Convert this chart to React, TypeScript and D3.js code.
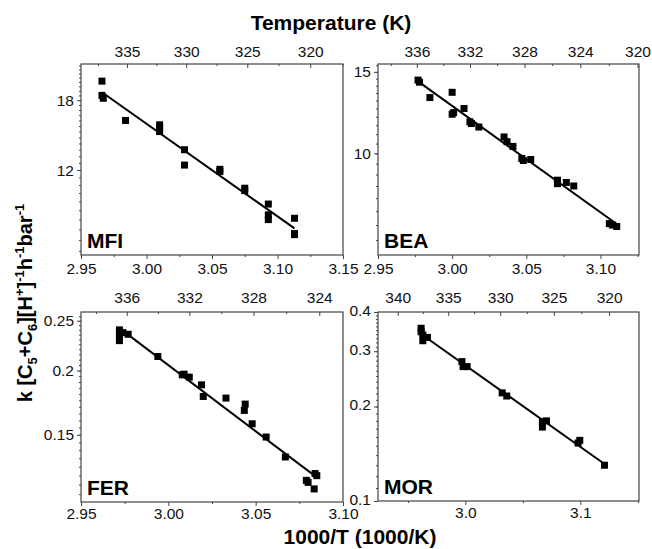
import * as d3 from "d3";
import React, { useRef, useEffect } from "react";

// 1000/T (1000/K) and k values, one pair of arrays per zeolite
const mfiX = [2.966, 2.966, 2.967, 2.984, 3.010, 3.010, 3.010, 3.029, 3.029, 3.056, 3.056, 3.075, 3.075, 3.093, 3.093, 3.093, 3.113, 3.113, 3.113];
const mfiY = [20.1, 18.5, 18.2, 16.0, 15.6, 15.3, 15.0, 13.5, 12.35, 12.05, 11.9, 10.8, 10.65, 9.85, 9.25, 9.0, 9.07, 8.3, 8.25];

const beaX = [2.977, 2.978, 2.985, 3.000, 3.000, 3.001, 3.008, 3.012, 3.013, 3.018, 3.035, 3.037, 3.041, 3.047, 3.048, 3.053, 3.071, 3.071, 3.077, 3.082, 3.106, 3.108, 3.111];
const beaY = [14.4, 14.25, 13.2, 13.55, 12.15, 12.25, 12.5, 11.7, 11.6, 11.4, 10.85, 10.6, 10.35, 9.75, 9.65, 9.7, 8.75, 8.6, 8.65, 8.5, 7.05, 7.0, 6.95];

const ferX = [2.972, 2.972, 2.972, 2.974, 2.977, 2.994, 3.008, 3.009, 3.012, 3.019, 3.020, 3.033, 3.0435, 3.044, 3.048, 3.056, 3.067, 3.079, 3.080, 3.0835, 3.084, 3.085];
const ferY = [0.240, 0.2346, 0.2287, 0.237, 0.2353, 0.213, 0.1962, 0.1968, 0.1942, 0.1876, 0.1781, 0.1768, 0.1673, 0.1721, 0.1576, 0.1485, 0.1358, 0.1223, 0.1212, 0.1177, 0.1261, 0.1249];

const morX = [2.9615, 2.9615, 2.963, 2.963, 2.967, 2.997, 2.998, 3.0015, 3.032, 3.036, 3.067, 3.067, 3.0705, 3.098, 3.0995, 3.121];
const morY = [0.355, 0.346, 0.338, 0.324, 0.332, 0.278, 0.268, 0.268, 0.221, 0.216, 0.179, 0.172, 0.180, 0.153, 0.156, 0.130];

// top axis temperatures (K)
const mfiTemp = [335, 330, 325, 320];
const mfiTempMinor = [337.5, 332.5, 327.5, 322.5, 317.5];
const beaTemp = [336, 332, 328, 324, 320];
const beaTempMinor = [338, 334, 330, 326, 322];
const ferTemp = [336, 332, 328, 324];
const ferTempMinor = [338, 334, 330, 326];
const morTemp = [340, 335, 330, 325, 320];
const morTempMinor = [337.5, 332.5, 327.5, 322.5];

// bottom axis 1000/T ticks
const mfiInvT = [2.95, 3.0, 3.05, 3.1, 3.15];
const beaInvT = [2.95, 3.0, 3.05, 3.1];
const ferInvT = [2.95, 3.0, 3.05, 3.1];
const morInvT = [3.0, 3.1];

// left axis ticks
const mfiRate = [12, 18];
const beaRate = [10, 15];
const ferRate = [0.15, 0.2, 0.25];
const morRate = [0.1, 0.2, 0.3, 0.4];

const FONT = "'Liberation Sans', Arial, Helvetica, sans-serif";
const AXIS = "#444";

const panels = [
  {
    name: "MFI", xs: mfiX, ys: mfiY, left: 81, top: 64, right: 343, bottom: 255,
    xDom: [2.95, 3.15], yDom: [7.33, 22.2],
    xTicks: mfiInvT, xMinor: d3.range(2.975, 3.15, 0.05), xFmt: ".2f",
    temps: mfiTemp, tempsMinor: mfiTempMinor,
    yTicks: mfiRate, yMinor: d3.range(7.5, 22.1, 0.5),
    topPad: 7, bottomPad: 4, leftDy: "0.32em",
  },
  {
    name: "BEA", xs: beaX, ys: beaY, left: 378, top: 64, right: 639, bottom: 255,
    xDom: [2.95, 3.126], yDom: [6.03, 15.6],
    xTicks: beaInvT, xMinor: d3.range(2.975, 3.126, 0.05), xFmt: ".2f",
    temps: beaTemp, tempsMinor: beaTempMinor,
    yTicks: beaRate, yMinor: d3.range(6.5, 15.6, 0.5),
    topPad: 7, bottomPad: 4, leftDy: "0.32em",
  },
  {
    name: "FER", xs: ferX, ys: ferY, left: 81, top: 312, right: 343, bottom: 502,
    xDom: [2.95, 3.10], yDom: [0.111, 0.26],
    xTicks: ferInvT, xMinor: d3.range(2.975, 3.1, 0.05), xFmt: ".2f",
    temps: ferTemp, tempsMinor: ferTempMinor,
    yTicks: ferRate, yMinor: d3.range(0.115, 0.2601, 0.005),
    topPad: 9, bottomPad: 2, leftDy: "0.32em",
  },
  {
    name: "MOR", xs: morX, ys: morY, left: 378, top: 312, right: 639, bottom: 501,
    xDom: [2.924, 3.151], yDom: [0.1, 0.4],
    xTicks: morInvT, xMinor: d3.range(2.95, 3.16, 0.1), xFmt: ".1f",
    temps: morTemp, tempsMinor: morTempMinor,
    yTicks: morRate, yMinor: d3.range(0.11, 0.4, 0.01),
    topPad: 9, bottomPad: 2, leftDy: "0.22em",
  },
];

const styleAxis = (a: any) => {
  a.select(".domain").remove();
  a.selectAll("line").attr("stroke", AXIS).attr("stroke-width", 1);
  a.selectAll("text").attr("font-size", 15.5).attr("font-family", FONT).attr("fill", "#111");
};

function drawPanel(svg: any, p: any) {
  const x = d3.scaleLinear().domain(p.xDom).range([p.left, p.right]);
  const y = d3.scaleLog().domain(p.yDom).range([p.bottom, p.top]);
  const g = svg.append("g");

  // bottom axis
  g.append("g").attr("transform", `translate(0,${p.bottom})`)
    .call(d3.axisBottom(x).tickValues(p.xTicks).tickFormat(d3.format(p.xFmt)).tickSize(4).tickPadding(p.bottomPad))
    .call(styleAxis);
  g.append("g").attr("transform", `translate(0,${p.bottom})`)
    .call(d3.axisBottom(x).tickValues(p.xMinor).tickFormat(() => "").tickSize(2))
    .call(styleAxis);

  // top axis, temperature
  g.append("g").attr("transform", `translate(0,${p.top})`)
    .call(d3.axisTop(x).tickValues(p.temps.map((t: number) => 1000 / t))
      .tickFormat((d: any) => String(Math.round(1000 / d)))
      .tickSizeInner(-4).tickSizeOuter(0).tickPadding(p.topPad))
    .call(styleAxis);
  g.append("g").attr("transform", `translate(0,${p.top})`)
    .call(d3.axisTop(x).tickValues(p.tempsMinor.map((t: number) => 1000 / t).filter((v: number) => v > p.xDom[0] && v < p.xDom[1]))
      .tickFormat(() => "").tickSizeInner(-2).tickSizeOuter(0))
    .call(styleAxis);

  // left axis
  g.append("g").attr("transform", `translate(${p.left},0)`)
    .call(d3.axisLeft(y).tickValues(p.yTicks).tickFormat((d: any) => String(d)).tickSize(4).tickPadding(3))
    .call(styleAxis)
    .call((a: any) => a.selectAll("text").attr("dy", p.leftDy));
  g.append("g").attr("transform", `translate(${p.left},0)`)
    .call(d3.axisLeft(y).tickValues(p.yMinor.filter((v: number) => v > p.yDom[0] && v < p.yDom[1]))
      .tickFormat(() => "").tickSize(2))
    .call(styleAxis);

  // frame
  g.append("rect")
    .attr("x", p.left).attr("y", p.top)
    .attr("width", p.right - p.left).attr("height", p.bottom - p.top)
    .attr("fill", "none").attr("stroke", AXIS).attr("stroke-width", 1.2);

  // least squares fit of ln k against 1000/T
  const lx: number[] = p.xs;
  const ly: number[] = p.ys.map(Math.log);
  const mx = d3.mean(lx) as number;
  const my = d3.mean(ly) as number;
  const slope = d3.sum(lx, (v, i) => (v - mx) * (ly[i] - my)) / d3.sum(lx, (v) => (v - mx) ** 2);
  const icpt = my - slope * mx;
  const fit = d3.line<number>().x((d) => x(d)).y((d) => y(Math.exp(icpt + slope * d)));
  g.append("path")
    .attr("d", fit(d3.extent(lx) as [number, number]))
    .attr("fill", "none").attr("stroke", "#000").attr("stroke-width", 2);

  // points
  g.append("g").selectAll("rect")
    .data(lx)
    .enter()
    .append("rect")
    .attr("x", (d: number) => x(d) - 3.5)
    .attr("y", (d: number, i: number) => y(p.ys[i]) - 3.5)
    .attr("width", 7).attr("height", 7)
    .attr("fill", "#000");

  g.append("text")
    .attr("x", p.left + 6).attr("y", p.bottom - 7)
    .attr("font-family", FONT).attr("font-weight", "bold").attr("font-size", 21)
    .text(p.name);
}

const App = () => {
  const ref = useRef<SVGSVGElement>(null);

  useEffect(() => {
    const svg = d3.select(ref.current);
    svg.selectAll("*").remove();

    panels.forEach((p) => drawPanel(svg, p));

    svg.append("text")
      .attr("x", 331).attr("y", 30).attr("text-anchor", "middle")
      .attr("font-family", FONT).attr("font-weight", "bold").attr("font-size", 21)
      .text("Temperature (K)");

    svg.append("text")
      .attr("x", 360).attr("y", 544).attr("text-anchor", "middle")
      .attr("font-family", FONT).attr("font-weight", "bold").attr("font-size", 21)
      .text("1000/T (1000/K)");

    // y label with sub/superscripts
    const yl = svg.append("text")
      .attr("transform", "translate(32,303) rotate(-90)")
      .attr("text-anchor", "middle")
      .attr("font-family", FONT).attr("font-weight", "bold").attr("font-size", 20);
    const parts: [string, number][] = [
      ["k [C", 0], ["5", 1], ["+C", 0], ["6", 1], ["][H", 0], ["+", -1], ["]", 0],
      ["-1", -1], ["h", 0], ["-1", -1], ["bar", 0], ["-1", -1],
    ];
    let shift = 0;
    parts.forEach(([s, lvl]) => {
      const target = lvl === 1 ? 5 : lvl === -1 ? -8 : 0;
      yl.append("tspan")
        .attr("dy", target - shift)
        .attr("font-size", lvl === 0 ? 20 : 13)
        .text(s);
      shift = target;
    });
  }, []);

  return (
    <svg
      ref={ref}
      width={652}
      height={549}
      style={{ position: "absolute", left: 0, top: 0, background: "#fff" }}
    />
  );
};

export default App;
